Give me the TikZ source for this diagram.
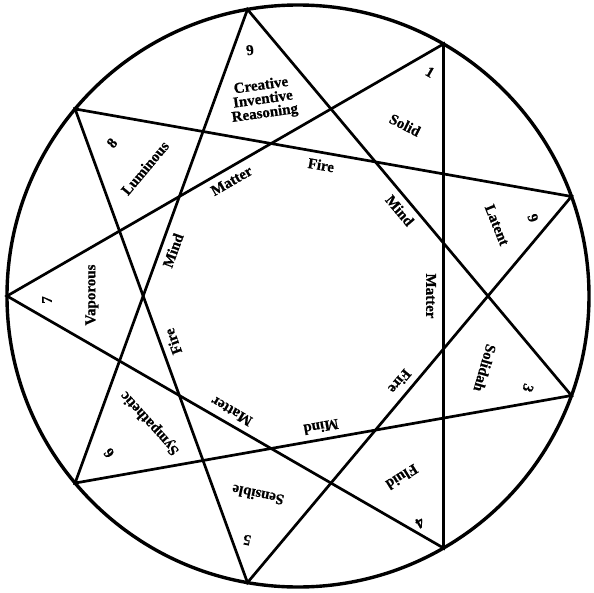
\documentclass[tikz,border=0pt]{standalone}
\usepackage{fontspec}
\setmainfont{Liberation Serif}[BoldFeatures={FakeBold=0.6}]
\begin{document}
\begin{tikzpicture}[x=1pt,y=1pt,
  ring/.style={line width=3.4pt},
  edge/.style={line width=2.7pt, line join=miter},
  lbl/.style={font=\bfseries\fontsize{15}{14}\selectfont, inner sep=0pt, align=center},
  num/.style={font=\bfseries\fontsize{15}{15}\selectfont, inner sep=0pt}]
\useasboundingbox (-298,-296) rectangle (296,296);
\draw[ring] (0,0) circle (291pt);
\foreach \n/\a in {9/100,1/60,2/20,3/-20,4/-60,5/-100,6/-140,7/180,8/140}
  \coordinate (v\n) at (\a:291);
\draw[edge] (v9) -- (v3) -- (v6) -- cycle;
\draw[edge] (v1) -- (v4) -- (v7) -- cycle;
\draw[edge] (v2) -- (v5) -- (v8) -- cycle;
% numbers
\node[num, rotate=10]   (n9) at (-48,246) {9};
\node[num, rotate=-30]  (n1) at (132,224) {1};
\node[num, rotate=-70]  (n2) at (235,78) {9};
\node[num, rotate=-110] (n3) at (230,-92) {3};
\node[num, rotate=-150] (n4) at (122,-227) {4};
\node[num, rotate=170]  (n5) at (-51,-244) {5};
\node[num, rotate=130]  (n6) at (-189,-157) {6};
\node[num, rotate=90]   (n7) at (-251,-4) {7};
\node[num, rotate=50]   (n8) at (-186,153) {8};
% words
\node[lbl, rotate=8]    (t9) at (-35,196) {Creative\\Inventive\\Reasoning};
\node[lbl, rotate=-27]  (t1) at (107,171) {Solid};
\node[lbl, rotate=-68]  (t2) at (199,71) {Latent};
\node[lbl, rotate=-106] (t3) at (187,-72) {Solidah};
\node[lbl, rotate=-148] (t4) at (104,-181) {Fluid};
\node[lbl, rotate=168]  (t5) at (-40,-199) {Sensible};
\node[lbl, rotate=132]  (t6) at (-148,-127) {Sympathetic};
\node[lbl, rotate=90]   (t7) at (-206,1) {Vaporous};
\node[lbl, rotate=50]   (t8) at (-153,128) {Luminous};
% inner ring
\foreach \w/\a [count=\i] in {Fire/80,Mind/40,Matter/0,Fire/-40,Mind/-80,Matter/-120,Fire/-160,Mind/160,Matter/120}
  \node[lbl, rotate=\a-90] (in\i) at (\a:133) {\w};
\end{tikzpicture}
\end{document}
